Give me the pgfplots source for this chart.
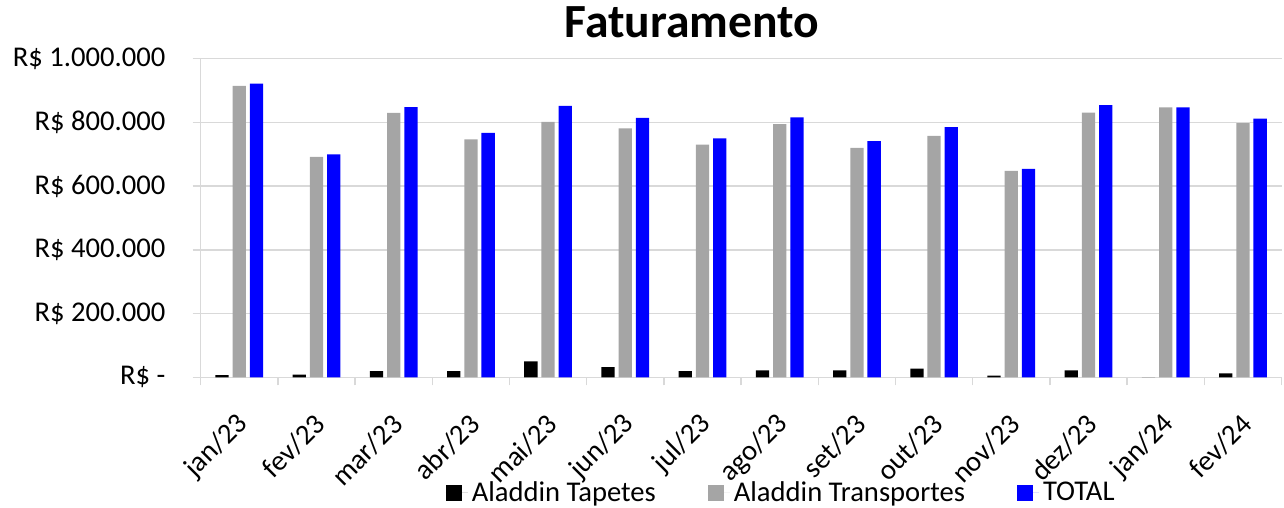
\documentclass[border=0pt]{standalone}
\usepackage{pgfplots}
\pgfplotsset{compat=1.18}
\usepackage{fontspec}
\setmainfont{Carlito}
\definecolor{gridc}{HTML}{D9D9D9}
\definecolor{grayb}{HTML}{A5A5A5}
\definecolor{blueb}{HTML}{0000FF}
\begin{document}
\begin{tikzpicture}
\path[use as bounding box] (0,0) rectangle (642pt,254pt);
\node[anchor=base, font=\fontsize{23.8}{28}\selectfont\bfseries] at (346pt,235.25pt) {Faturamento};
\begin{axis}[
  at={(100.35pt,65.35pt)}, anchor=south west,
  scale only axis, width=540.4pt, height=159.3pt,
  xmin=-0.5, xmax=13.5, ymin=0, ymax=1000000,
  axis lines*=left,
  axis line style={draw=gridc, line width=0.75pt},
  ymajorgrids, grid style={draw=gridc, line width=0.75pt},
  ytick={0,200000,400000,600000,800000,1000000},
  yticklabels={R\$ -\hspace{6.35pt}, R\$ 200.000, R\$ 400.000, R\$ 600.000, R\$ 800.000, R\$ 1.000.000},
  scaled y ticks=false,
  xtick={0,...,13},
  xticklabels={jan/23,fev/23,mar/23,abr/23,mai/23,jun/23,jul/23,ago/23,set/23,out/23,nov/23,dez/23,jan/24,fev/24},
  major x tick style={draw=none},
  minor xtick={-0.5,0.5,...,13.5},
  minor x tick style={draw=gridc, line width=0.75pt},
  major y tick style={draw=gridc, line width=0.75pt},
  tick align=outside,
  major tick length=4pt, minor tick length=4pt,
  ticklabel style={font=\fontsize{14.3}{17}\selectfont},
  yticklabel style={anchor=east, inner sep=0pt, xshift=-13.5pt},
  xticklabel style={rotate=45, anchor=east, inner sep=0pt, xshift=1.5pt, yshift=-1.5pt},
  xticklabel shift=17pt,
  ybar, bar width=0.172,
  legend columns=3,
  legend style={at={(0.538,-0.363)}, anchor=center, draw=none, fill=none,
    font=\fontsize{14.3}{17}\selectfont,
    /tikz/every even column/.append style={column sep=24pt}},
  legend image code/.code={\path (0pt,0pt) -- (11pt,0pt);\fill[#1] (0pt,-4pt) rectangle (8pt,4pt);},
]
\addplot[fill=black, draw=none, bar shift=-0.223] coordinates {
(0,7000) (1,8000) (2,19000) (3,19000) (4,50000) (5,32000) (6,19000) (7,22000) (8,22000) (9,27000) (10,5000) (11,22000) (12,0) (13,12500)};
\addlegendentry{Aladdin Tapetes}
\addplot[fill=grayb, draw=none, bar shift=0] coordinates {
(0,915000) (1,692000) (2,830000) (3,747000) (4,802000) (5,781000) (6,730000) (7,795000) (8,720000) (9,758000) (10,648000) (11,831000) (12,847000) (13,798000)};
\addlegendentry{Aladdin Transportes}
\addplot[fill=blueb, draw=none, bar shift=0.223] coordinates {
(0,922000) (1,700000) (2,848000) (3,767000) (4,852000) (5,814000) (6,750000) (7,816000) (8,741000) (9,785000) (10,654000) (11,854000) (12,847000) (13,812000)};
\addlegendentry{TOTAL}
\end{axis}
\end{tikzpicture}
\end{document}
